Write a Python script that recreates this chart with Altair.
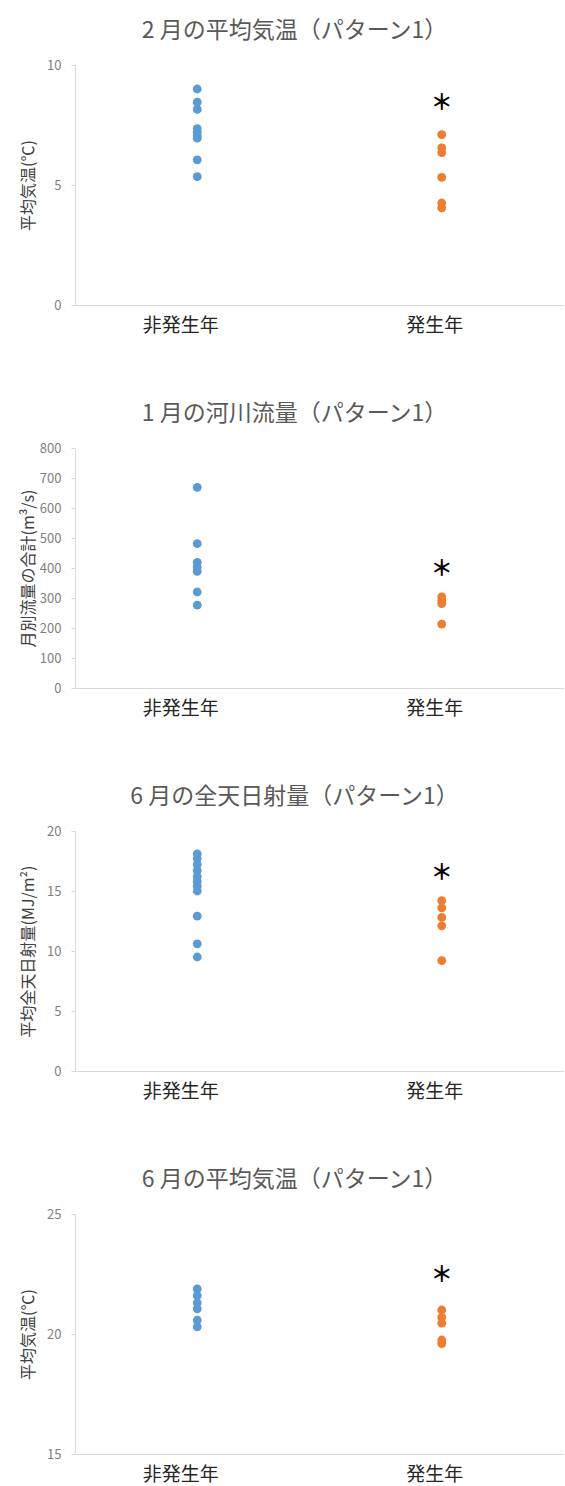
import altair as alt
import pandas as pd

categories = ["非発生年", "発生年"]
colors = ["#5b9bd5", "#ed7d31"]
font = "Noto Sans CJK JP"

titles = [
    "2 月の平均気温（パターン1）",
    "1 月の河川流量（パターン1）",
    "6 月の全天日射量（パターン1）",
    "6 月の平均気温（パターン1）",
]
y_titles = [
    "平均気温(℃)",
    "月別流量の合計(m³/s)",
    "平均全天日射量(MJ/m²)",
    "平均気温(℃)",
]
y_domains = [[0, 10], [0, 800], [0, 20], [15, 25]]
y_ticks = [[0, 5, 10], [0, 100, 200, 300, 400, 500, 600, 700, 800], [0, 5, 10, 15, 20], [15, 20, 25]]

feb_temp_non = [9.0, 8.45, 8.15, 7.35, 7.2, 7.05, 6.95, 6.05, 5.35]
feb_temp_evt = [7.1, 6.55, 6.35, 5.32, 4.25, 4.05]
jan_flow_non = [669, 481, 419, 403, 389, 320, 276]
jan_flow_evt = [304, 292, 281, 213]
jun_rad_non = [18.1, 17.7, 17.2, 16.7, 16.2, 15.8, 15.4, 15.0, 12.9, 10.6, 9.5]
jun_rad_evt = [14.2, 13.6, 12.8, 12.1, 9.2]
jun_temp_non = [21.88, 21.6, 21.3, 21.05, 20.58, 20.3]
jun_temp_evt = [21.0, 20.7, 20.45, 19.75, 19.6]
star_values = [8.4, 397, 16.5, 22.45]

series = [
    (feb_temp_non, feb_temp_evt),
    (jan_flow_non, jan_flow_evt),
    (jun_rad_non, jun_rad_evt),
    (jun_temp_non, jun_temp_evt),
]


def panel(i):
    non, evt = series[i]
    df = pd.DataFrame({
        "区分": [categories[0]] * len(non) + [categories[1]] * len(evt),
        "値": [float(v) for v in non + evt],
    })
    star = pd.DataFrame({"区分": [categories[1]], "値": [float(star_values[i])], "t": ["＊"]})
    x = alt.X(
        "区分:N",
        sort=categories,
        scale=alt.Scale(domain=categories, type="point", padding=0.5),
        axis=alt.Axis(
            title=None, ticks=False, domainColor="#d9d9d9", labelFontSize=19,
            labelColor="#262626", labelFont=font, labelAlign="right", labelOffset=21,
            labelPadding=11, labelAngle=0,
        ),
    )
    y = alt.Y(
        "値:Q",
        scale=alt.Scale(domain=y_domains[i], nice=False, zero=False),
        axis=alt.Axis(
            title=y_titles[i], values=y_ticks[i], grid=False, domainColor="#d9d9d9",
            tickColor="#d9d9d9", tickSize=4, labelColor="#7f7f7f", labelFontSize=13,
            labelFont=font, labelPadding=10, labelOverlap=False, titleFont=font,
            titleFontSize=16, titleFontWeight="normal", titleColor="#404040",
            minExtent=30, maxExtent=30, titlePadding=9,
        ),
    )
    pts = alt.Chart(df).mark_circle(size=78, opacity=1).encode(
        x=x, y=y,
        color=alt.Color("区分:N", scale=alt.Scale(domain=categories, range=colors), legend=None),
    )
    txt = alt.Chart(star).mark_text(font=font, fontSize=22, fontWeight="bold", baseline="middle", color="#000000").encode(
        x=x, y=y, text="t:N",
    )
    return alt.layer(pts, txt).properties(
        width=489, height=240,
        title=alt.TitleParams(
            titles[i], fontSize=23, font=font, fontWeight="normal", color="#595959",
            anchor="middle", frame="group", offset=16, dx=-25,
        ),
    )


chart = alt.vconcat(*[panel(i) for i in range(4)], spacing=68).properties(
    padding={"left": 20, "top": 20, "right": 0, "bottom": 0},
    background="white",
).configure_view(stroke=None)

chart.save("out.html", embed_options={"renderer": "svg", "actions": False})
